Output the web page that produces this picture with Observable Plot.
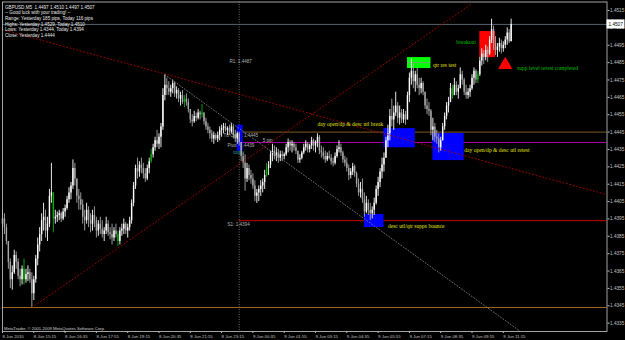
<!DOCTYPE html>
<html><head><meta charset="utf-8">
<script src="https://cdn.jsdelivr.net/npm/d3@7"></script>
<script src="https://cdn.jsdelivr.net/npm/@observablehq/plot@0.6"></script>
<style>html,body{margin:0;padding:0;background:#000;overflow:hidden}</style>
</head><body><div id="chart"></div>
<script>
// GBPUSD M5, bars from 8 Jun 2010 13:55, one every 5 minutes.
// Price values are in pips above BASE (1.4300).
const BASE = 1.43;
const firstOpen = 92;
const highs = [
100,98,92,82,72,68,77,76,72,66, 68,72,66,68,66,64,62,74,84,90,
98,104,100,96,112,127,110,100,99,100, 99,101,103,108,113,116,129,127,118,112,
110,106,100,104,102,98,100,102,96,94, 96,94,90,96,94,90,92,90,92,88,
90,92,95,93,92,96,106,116,126,130, 128,130,127,124,126,130,135,138,142,146,
144,150,170,178,176,174,172,175,174,171, 170,168,169,166,167,164,158,155,157,156,
158,157,161,156,153,150,148,146,145,144, 145,148,149,150,150,148,149,150,149,146,
145,145,139,133,132,127,126,123,121,117, 112,114,117,118,123,127,128,134,138,137,
136,135,134,134,133,138,141,140,140,139, 138,134,132,134,138,140,139,138,142,141,
140,144,143,137,136,134,133,134,132,130, 133,137,140,138,134,131,130,126,124,127,
126,122,118,116,118,110,108,106,104,102, 107,114,119,124,130,133,142,149,158,164,
160,168,162,160,158,158,157,168,179,187, 184,180,182,176,176,174,168,164,162,158,
153,150,146,144,142,150,156,162,165,173, 172,176,174,172,182,180,176,172,170,172,
178,182,181,180,188,193,192,195,194,200, 210,206,200,196,199,198,197,200,205,204,210];
const lows = [
88,86,80,66,55,54,63,66,60,56, 57,57,58,59,58,44,48,58,68,76,
82,88,84,82,90,104,87,92,93,94, 93,94,96,100,104,106,112,114,104,100,
100,92,88,92,90,87,88,90,84,85, 86,84,82,86,85,83,80,82,84,79,
80,85,86,86,84,88,92,102,112,118, 119,121,118,116,117,121,127,130,134,136,
135,136,146,163,166,166,165,167,165,164, 162,160,161,159,160,156,150,148,150,151,
152,152,153,149,146,144,141,139,138,140, 139,140,142,144,145,143,143,144,141,139,
138,137,128,124,111,116,117,115,112,105, 104,105,108,110,112,119,120,124,128,129,
128,127,128,128,129,131,133,134,133,134, 132,127,127,129,132,134,133,133,135,134,
133,136,132,130,129,127,128,129,126,125, 126,130,133,131,127,125,122,117,118,120,
119,113,108,107,104,96,98,97,94,95, 97,103,108,113,118,122,130,136,140,148,
146,154,150,149,150,150,149,152,162,172, 170,168,170,166,167,166,158,155,154,143,
140,139,138,133,134,140,146,152,156,162, 164,166,166,164,170,172,166,164,164,165,
169,172,173,173,177,183,184,186,185,189, 196,192,189,188,191,190,191,193,195,196,197];
const closes = [
95,90,82,70,60,64,74,70,62,60, 66,60,63,64,60,52,60,72,80,86,
94,96,88,92,108,110,95,96,97,98, 95,99,101,106,110,114,124,118,108,106,
103,96,94,100,94,92,97,94,88,92, 89,86,88,92,87,86,84,88,86,82,
88,89,92,88,90,94,104,114,124,122, 126,124,121,118,124,128,132,136,140,138,
142,148,166,172,170,168,170,173,167,169, 164,166,162,164,162,158,152,151,154,153,
156,155,156,151,148,146,144,141,143,141, 143,146,147,148,146,147,145,148,143,141,
144,139,131,127,118,124,120,118,114,108, 110,112,114,116,120,124,126,132,134,131,
133,130,132,131,132,136,139,137,138,136, 134,129,130,133,136,138,135,137,140,137,
139,142,134,133,131,129,131,130,128,127, 131,135,136,133,129,127,124,120,122,125,
121,115,110,112,106,99,104,100,98,100, 104,112,116,122,126,130,140,144,154,152,
156,160,153,156,152,155,152,166,176,180, 174,178,172,170,173,168,160,158,157,146,
148,142,141,136,140,148,154,160,162,170, 166,172,168,170,178,175,168,166,168,170,
176,180,175,178,186,190,188,192,190,198, 204,196,192,194,196,193,195,198,202,197,207];
const greenBars = [11, 26, 59, 76, 93, 102, 135, 230, 243];

const xMax = 309;                 // last bar slot shown at the right edge
const dayStartBar = 121;          // 9 Jun 00:00
const timeTicks = [0,16,32,48,64,80,96,112,128,144,160,176,192,208,224,240,256];
const timeLabels = ["8 Jun 2010","8 Jun 15:15","8 Jun 16:35","8 Jun 17:55","8 Jun 19:15","8 Jun 20:35",
  "8 Jun 21:55","8 Jun 23:15","9 Jun 00:35","9 Jun 01:55","9 Jun 03:15","9 Jun 04:35","9 Jun 05:55",
  "9 Jun 07:15","9 Jun 08:35","9 Jun 09:55","9 Jun 11:15"];
const priceTicks = [1.4335,1.4345,1.4355,1.4365,1.4375,1.4385,1.4395,1.4405,1.4415,1.4425,
  1.4435,1.4445,1.4455,1.4465,1.4475,1.4485,1.4495,1.4505,1.4515];
const priceDomain = [1.43302, 1.45199];

const bidPrice = 1.4507;
const yesterdayLow = 1.4344;
const dayLevels = [
  {name: "open",  price: 1.4445, color: "#8c6430", dash: "1.5,1"},
  {name: "pivot", price: 1.4439, color: "#c000c0", dash: null},
  {name: "s1",    price: 1.4394, color: "#e00000", dash: "2,1"}
];
const qtrLevel = {price: 1.4485, from: 207, to: 219};

const levelLabels = [
  {text: "R1: 1.4487",      bar: 116, price: 1.44858, color: "#b0b0b0"},
  {text: "S1: 1.4394",      bar: 115, price: 1.43920, color: "#b0b0b0"},
  {text: "Td Open: 1.4445", bar: 113, price: 1.44432, color: "#b0b0b0"},
  {text: "Pivot: 1.4439",   bar: 115, price: 1.44370, color: "#b0b0b0"},
  {text: "5 pip",           bar: 133, price: 1.44402, color: "#b0b0b0"},
  {text: "today",           bar: 118, price: 1.44330, color: "#20a0a0"}
];

const trendRedDesc  = [{bar: 0,  price: 1.4504}, {bar: 309, price: 1.4409}];
const trendRedAsc   = [{bar: 15, price: 1.4344}, {bar: 240, price: 1.4519}];
const trendGrayDesc = [{bar: 83, price: 1.4478}, {bar: 265, price: 1.4330}];

const zones = [
  {from: 120, to: 123, low: 1.44340, high: 1.44490, color: "#0000ff"},
  {from: 195, to: 211, low: 1.44360, high: 1.44470, color: "#0000ff"},
  {from: 220, to: 236, low: 1.44286, high: 1.44442, color: "#0000ff"},
  {from: 185, to: 195, low: 1.43901, high: 1.43976, color: "#0000ff"},
  {from: 207, to: 219, low: 1.44816, high: 1.44879, color: "#00ff00"},
  {from: 244, to: 252, low: 1.44879, high: 1.45029, color: "#ff0000"}
];
const triangleMark = [{bar: 257, price: 1.44837}];

const notes = [
  {text: "day open/dp & desc utl break",  bar: 161, price: 1.44494, color: "#e0e000"},
  {text: "qtr res test",                  bar: 220, price: 1.44833, color: "#e0e000"},
  {text: "day open/dp & desc utl retest", bar: 236, price: 1.44344, color: "#e0e000"},
  {text: "desc utl/qtr supps bounce",     bar: 197, price: 1.43906, color: "#e0e000"},
  {text: "breakout",                      bar: 232, price: 1.44966, color: "#00c000"},
  {text: "supp level retest completed",   bar: 263, price: 1.44816, color: "#00c000"}
];

const infoLines = [
  "GBPUSD,M5  1.4497 1.4510 1.4497 1.4507",
  "-- Good luck with your trading! --",
  "Range: Yesterday 185 pips, Today 116 pips",
  "Highs: Yesterday 1.4529, Today 1.4510",
  "Lows: Yesterday 1.4344, Today 1.4394",
  "Close: Yesterday 1.4444"
];
const copyright = "MetaTrader, \u00a9 2001-2009 MetaQuotes Software Corp.";

// ---- build the bar table ----
const bars = closes.map((c, i) => {
  const o = i === 0 ? firstOpen : closes[i - 1];
  return {
    bar: i,
    open: BASE + o / 1e4, close: BASE + c / 1e4,
    high: BASE + highs[i] / 1e4, low: BASE + lows[i] / 1e4,
    kind: greenBars.includes(i) ? "g" : (c >= o ? "u" : "d")
  };
});
const barColor = d => d.kind === "g" ? "#00b000" : d.kind === "u" ? "#ffffff" : "#a8a8a8";

const chart = Plot.plot({
  width: 625, height: 340,
  marginLeft: 2, marginRight: 18.5, marginTop: 1.5, marginBottom: 9,
  style: {background: "#000", color: "#c0c0c0", fontFamily: "'Liberation Sans', Arial, sans-serif"},
  x: {type: "linear", domain: [0, xMax]},
  y: {type: "linear", domain: priceDomain},
  marks: [
    Plot.ruleX([dayStartBar], {stroke: "#8a8a8a", strokeDasharray: "1,1.5", strokeWidth: 0.8}),
    Plot.ruleY([bidPrice], {stroke: "#6c7a8a", strokeWidth: 0.8}),
    Plot.ruleY([yesterdayLow], {stroke: "#b8741e", strokeWidth: 0.9}),
    Plot.ruleY(dayLevels, {y: "price", x1: dayStartBar, x2: xMax, stroke: "color", strokeDasharray: "dash", strokeWidth: 0.9}),
    Plot.text(levelLabels, {x: "bar", y: "price", text: "text", fill: "color", textAnchor: "start", fontSize: 4.6}),
    Plot.rect(zones, {x1: "from", x2: "to", y1: "low", y2: "high", fill: "color"}),
    Plot.ruleY([qtrLevel], {y: "price", x1: "from", x2: "to", stroke: "#909090", strokeWidth: 0.8}),
    Plot.ruleX(bars, {x: "bar", y1: "low", y2: "high", stroke: barColor, strokeWidth: 0.9}),
    Plot.ruleX(bars, {x: "bar", y1: "open", y2: "close", stroke: barColor, strokeWidth: 1.4}),
    Plot.line(trendRedDesc, {x: "bar", y: "price", stroke: "#b00000", strokeDasharray: "1,2.5", strokeWidth: 0.9, clip: true}),
    Plot.line(trendRedAsc, {x: "bar", y: "price", stroke: "#b00000", strokeDasharray: "1,2.5", strokeWidth: 0.9, clip: true}),
    Plot.line(trendGrayDesc, {x: "bar", y: "price", stroke: "#7a7a7a", strokeDasharray: "1,2", strokeWidth: 0.9, clip: true}),
    Plot.dot(triangleMark, {x: "bar", y: "price", symbol: "triangle", r: 5.3, fill: "#ff0000", stroke: "none"}),
    Plot.text(notes, {x: "bar", y: "price", text: "text", fill: "color", textAnchor: "start",
      fontFamily: "'Liberation Serif', 'Times New Roman', serif", fontSize: 5.6}),
    Plot.text([infoLines.join("\n")], {text: d => d, frameAnchor: "top-left", dx: 2.5, dy: 2.5,
      lineAnchor: "top", textAnchor: "start", fontSize: 4.6, lineHeight: 1.24, fill: "#e8e8e8"}),
    Plot.text([copyright], {text: d => d, frameAnchor: "bottom-left", dx: 1.5, dy: -2,
      lineAnchor: "bottom", textAnchor: "start", fontSize: 4.2, fill: "#d0d0d0"}),
    Plot.axisY({anchor: "right", ticks: priceTicks, tickFormat: d => d.toFixed(4), tickSize: 2,
      tickPadding: 1, fontSize: 4.7, color: "#c0c0c0"}),
    Plot.axisX({anchor: "bottom", ticks: timeTicks, tickFormat: d => timeLabels[timeTicks.indexOf(d)],
      tickSize: 2, tickPadding: 1, fontSize: 4.3, textAnchor: "start", color: "#c0c0c0"}),
    Plot.frame({stroke: "#b4b4b4", strokeWidth: 0.9}),
    Plot.rect([bidPrice], {x1: xMax, x2: xMax + 9.2, y1: d => d - 0.00026, y2: d => d + 0.00026, fill: "#ffffff"}),
    Plot.text([bidPrice], {x: xMax, y: d => d, text: d => d.toFixed(4), dx: 1.5, textAnchor: "start",
      fontSize: 4.7, fill: "#000"})
  ]
});
document.getElementById("chart").appendChild(chart);
</script>
</body></html>
